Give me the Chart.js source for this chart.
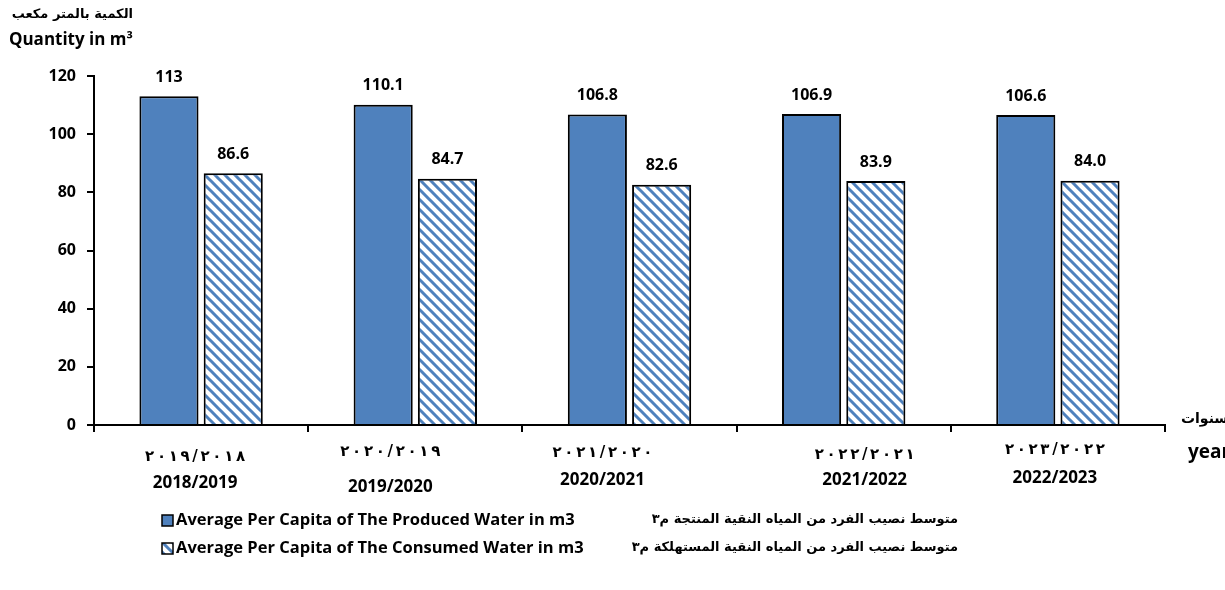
<!DOCTYPE html>
<html>
<head>
<meta charset="utf-8">
<script src="https://cdn.jsdelivr.net/npm/chart.js@4"></script>
<style>
  html, body { margin: 0; padding: 0; background: #fff; }
  #wrap { width: 1225px; height: 590px; }
</style>
</head>
<body>
<div id="wrap"><canvas id="waterChart" width="1225" height="590"></canvas></div>
<script>
// years, in Arabic-Indic and Latin digits
const yearsAr = ['٢٠١٩/٢٠١٨', '٢٠٢٠/٢٠١٩', '٢٠٢١/٢٠٢٠', '٢٠٢٢/٢٠٢١', '٢٠٢٣/٢٠٢٢'];
const yearsEn = ['2018/2019', '2019/2020', '2020/2021', '2021/2022', '2022/2023'];

// per capita water, m3
const producedWater = [113, 110.1, 106.8, 106.9, 106.6];
const consumedWater = [86.6, 84.7, 82.6, 83.9, 84.0];

const yTicks = [0, 20, 40, 60, 80, 100, 120];

const producedNameEn = 'Average Per Capita of The Produced Water in m3';
const producedNameAr = 'متوسط نصيب الفرد من المياه النقية المنتجة م٣';
const consumedNameEn = 'Average Per Capita of The Consumed Water in m3';
const consumedNameAr = 'متوسط نصيب الفرد من المياه النقية المستهلكة م٣';

const BLUE = '#4f81bd';
const EN_FONT = 'bold 16px "Open Sans"';
const LEGEND_FONT = 'bold 16.5px "Open Sans"';
const YEAR_FONT = 'bold 17px "Open Sans"';
const AR_FONT = 'bold 13px "DejaVu Sans"';
const AR_DIGITS_FONT = 'bold 15px "DejaVu Sans"';
const AR_DIGITS_WIDTH = 100;

// hand placed year labels in the original, small nudges from category centre
const yearNudge = [
    { dx: -6, dyAr: 2, dyEn: 2 },
    { dx: -25, dyAr: -3, dyEn: 6 },
    { dx: -27, dyAr: -2, dyEn: -1 },
    { dx: 21, dyAr: 0, dyEn: -1 },
    { dx: -3, dyAr: -5, dyEn: -3 }
];

const canvas = document.getElementById('waterChart');
const ctx = canvas.getContext('2d');

function makeHatch(color) {
    const c = document.createElement('canvas');
    c.width = 10;
    c.height = 10;
    const g = c.getContext('2d');
    g.fillStyle = '#fff';
    g.fillRect(0, 0, 10, 10);
    g.strokeStyle = color;
    g.lineWidth = 3;
    g.beginPath();
    g.moveTo(-5, -5); g.lineTo(15, 15);
    g.moveTo(-5, 5); g.lineTo(5, 15);
    g.moveTo(5, -5); g.lineTo(15, 5);
    g.stroke();
    return ctx.createPattern(c, 'repeat');
}

const hatch = makeHatch(BLUE);

function formatValue(datasetIndex, v) {
    if (datasetIndex === 0) return String(v);
    return v.toFixed(1);
}

// spaced out digits: these are all left-to-right, so draw one glyph at a time
function drawSpaced(c, text, cx, cy, totalWidth) {
    const chars = Array.from(text);
    const widths = chars.map(ch => c.measureText(ch).width);
    const sum = widths.reduce((a, b) => a + b, 0);
    const gap = (totalWidth - sum) / (chars.length - 1);
    let px = cx - totalWidth / 2;
    c.textAlign = 'left';
    chars.forEach((ch, i) => {
        c.fillText(ch, px, cy);
        px += widths[i] + gap;
    });
}

const valueLabels = {
    id: 'valueLabels',
    afterDatasetsDraw(chart) {
        const c = chart.ctx;
        c.save();
        c.font = EN_FONT;
        c.fillStyle = '#000';
        c.textAlign = 'center';
        c.textBaseline = 'middle';
        chart.data.datasets.forEach((ds, di) => {
            chart.getDatasetMeta(di).data.forEach((bar, i) => {
                c.fillText(formatValue(di, ds.data[i]), bar.x, bar.y - 19);
            });
        });
        c.restore();
    }
};

const extraText = {
    id: 'extraText',
    afterDraw(chart) {
        const c = chart.ctx;
        const x = chart.scales.x;
        c.save();
        c.fillStyle = '#000';
        c.textBaseline = 'middle';

        // year labels under the axis
        yearsEn.forEach((label, i) => {
            const px = x.getPixelForValue(i) + yearNudge[i].dx;
            c.font = AR_DIGITS_FONT;
            drawSpaced(c, yearsAr[i], px, 455 + yearNudge[i].dyAr, AR_DIGITS_WIDTH);
            c.font = YEAR_FONT;
            c.textAlign = 'center';
            c.fillText(label, px, 481 + yearNudge[i].dyEn);
        });

        // y axis title
        c.textAlign = 'right';
        c.font = AR_FONT;
        c.fillText('الكمية بالمتر مكعب', 133, 15);
        c.font = 'bold 17px "Open Sans"';
        c.fillText('Quantity in m³', 133, 40);

        // x axis title, runs off the right edge
        c.textAlign = 'left';
        c.font = 'bold 14px "DejaVu Sans"';
        c.fillText('سنوات', 1181, 419);
        c.font = 'bold 19px "Open Sans"';
        c.fillText('years', 1188, 453);

        // legend
        const rows = [
            { fill: BLUE, en: producedNameEn, ar: producedNameAr, y: 520 },
            { fill: hatch, en: consumedNameEn, ar: consumedNameAr, y: 548 }
        ];
        rows.forEach(r => {
            c.fillStyle = r.fill;
            c.fillRect(162, r.y - 5, 11, 11);
            c.strokeStyle = '#000';
            c.lineWidth = 1.5;
            c.strokeRect(162, r.y - 5, 11, 11);
            c.fillStyle = '#000';
            c.textAlign = 'left';
            c.font = LEGEND_FONT;
            c.fillText(r.en, 176, r.y);
            c.textAlign = 'right';
            c.font = AR_FONT;
            c.fillText(r.ar, 958, r.y);
        });
        c.restore();
    }
};

new Chart(ctx, {
    type: 'bar',
    data: {
        labels: yearsEn,
        datasets: [{
            label: producedNameEn,
            data: producedWater,
            backgroundColor: BLUE,
            borderColor: '#000',
            borderWidth: 2,
            categoryPercentage: 0.6,
            barPercentage: 0.92
        }, {
            label: consumedNameEn,
            data: consumedWater,
            backgroundColor: hatch,
            borderColor: '#000',
            borderWidth: 2,
            categoryPercentage: 0.6,
            barPercentage: 0.92
        }]
    },
    options: {
        responsive: false,
        animation: false,
        layout: { padding: { top: 76, right: 60, left: 0, bottom: 0 } },
        plugins: {
            legend: { display: false },
            tooltip: { enabled: false }
        },
        scales: {
            x: {
                grid: {
                    display: true,
                    drawOnChartArea: false,
                    drawTicks: true,
                    tickLength: 7,
                    color: '#000',
                    lineWidth: 2
                },
                border: { display: true, color: '#000', width: 2 },
                ticks: { display: false },
                afterFit(scale) { scale.height = 165; }
            },
            y: {
                min: 0,
                max: 120,
                afterBuildTicks(scale) {
                    scale.ticks = yTicks.map(v => ({ value: v }));
                },
                grid: {
                    display: true,
                    drawOnChartArea: false,
                    drawTicks: true,
                    tickLength: 7,
                    color: '#000',
                    lineWidth: 2
                },
                border: { display: true, color: '#000', width: 2 },
                ticks: {
                    color: '#000',
                    font: { family: 'Open Sans', size: 16, weight: 'bold' },
                    padding: 11
                },
                afterFit(scale) { scale.width = 94; }
            }
        }
    },
    plugins: [valueLabels, extraText]
});
</script>
</body>
</html>
